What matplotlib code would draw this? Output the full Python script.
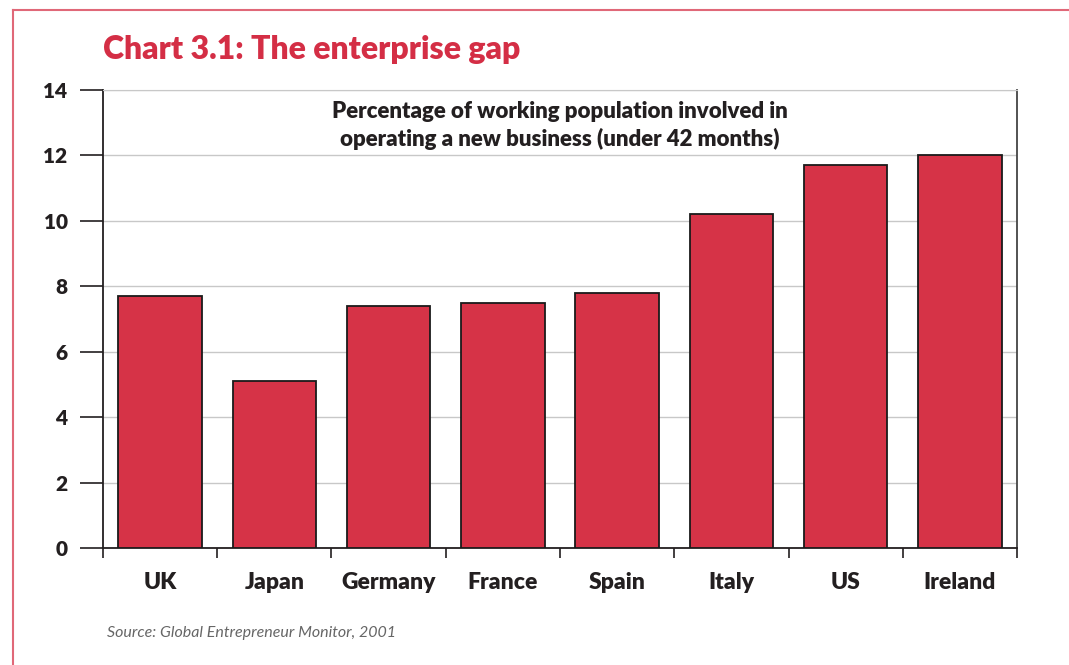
import numpy as np
import matplotlib.pyplot as plt
from matplotlib.lines import Line2D

countries = ["UK", "Japan", "Germany", "France", "Spain", "Italy", "US", "Ireland"]
share = [7.7, 5.1, 7.4, 7.5, 7.8, 10.2, 11.7, 12.0]
yticks = [0, 2, 4, 6, 8, 10, 12, 14]

red = "#d63347"
dark = "#231f20"
plt.rcParams['font.family'] = ['Lato', 'DejaVu Sans']
heavy = "heavy"

fig = plt.figure(figsize=(10.69, 6.65), dpi=100)
ax = fig.add_axes([0.0963, 0.176, 0.8551, 0.6887])

x = np.arange(len(countries))
ax.bar(x, share, width=0.73, color=red, edgecolor="#1a1a1a", linewidth=1.3, zorder=3)

ax.set_xlim(-0.5, len(countries) - 0.5)
ax.set_ylim(0, 14)
ax.set_yticks(yticks)
ax.set_yticklabels([str(t) for t in yticks], fontsize=15, fontweight=heavy, color=dark)
ax.yaxis.grid(True, color="#c8c8c8", linewidth=1.0, zorder=0)
ax.tick_params(axis="y", length=16.5, width=1.2, color=dark, pad=9)

ax.set_xticks(x)
ax.set_xticklabels(countries, fontsize=16.5, fontweight=heavy, color=dark)
ax.set_xticks(np.arange(len(countries) + 1) - 0.5, minor=True)
ax.tick_params(axis="x", which="major", length=0, pad=17)
ax.tick_params(axis="x", which="minor", length=7.5, width=1.2, color=dark)

ax.spines["top"].set_color("#c8c8c8")
for s in ["left", "right", "bottom"]:
    ax.spines[s].set_linewidth(1.3)
    ax.spines[s].set_color(dark)
ax.spines["right"].set_color("#444444")

ax.text(0.5, 0.977, "Percentage of working population involved in\noperating a new business (under 42 months)",
        transform=ax.transAxes, ha="center", va="top", fontsize=16, fontweight=heavy,
        color=dark, linespacing=1.35)

fig.text(0.0963, 0.925, "Chart 3.1: The enterprise gap", fontsize=23, fontweight=heavy,
         color="#d42e45", ha="left", va="center")
fig.text(0.100, 0.048, "Source: Global Entrepreneur Monitor, 2001", fontsize=11.5, style="italic",
         color="#666666", ha="left", va="center")

# frame around the figure
fig.add_artist(Line2D([0.0122, 0.0122], [0.0, 0.985], color="#e06878", linewidth=1.5))
fig.add_artist(Line2D([0.0122, 1.0], [0.985, 0.985], color="#e06878", linewidth=1.5))

fig.savefig("out.png", dpi=100)
